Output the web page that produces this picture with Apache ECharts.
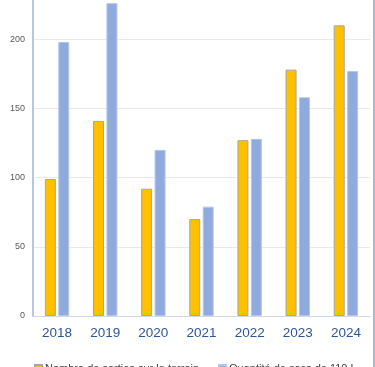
<!DOCTYPE html>
<html><head><meta charset="utf-8">
<script src="https://cdn.jsdelivr.net/npm/echarts@6/dist/echarts.min.js"></script>
<style>html,body{margin:0;padding:0;background:#fff;overflow:hidden;height:367px}
#c{width:373px;height:410px;margin-top:-30px;border-right:2px solid #A8B8D8;}</style>
</head><body><div id="c"></div>
<script>
const categories = ['2018','2019','2020','2021','2022','2023','2024'];
const sorties = [99, 141, 92, 70, 127, 178, 210];
const sacs = [198, 226, 120, 79, 128, 158, 177];
const yTicks = [0, 50, 100, 150, 200, 250];
const seriesNames = ['Nombre de sorties sur le terrain', 'Quantité de sacs de 110 L'];

const chart = echarts.init(document.getElementById('c'));
chart.setOption({
  animation: false,
  grid: {left: 33, right: 3, top: 0, bottom: 64, containLabel: false, outerBoundsMode: 'none'},
  legend: {
    show: true, width: 600,
    top: 393, left: 34, padding: 0, itemWidth: 7, itemHeight: 7, itemGap: 19,
    icon: 'rect',
    textStyle: {fontSize: 11, color: '#404040', fontFamily: 'Liberation Sans', padding: [0, 0, 0, -2]}
  },
  xAxis: {
    type: 'category', data: categories,
    axisLine: {show: true, lineStyle: {color: '#D0D9EA', width: 1}},
    axisTick: {show: false},
    axisLabel: {color: '#2F5597', fontSize: 13.5, margin: 10, fontFamily: 'Liberation Sans'}
  },
  yAxis: {
    type: 'value', min: yTicks[0], max: yTicks[yTicks.length - 1], interval: 50,
    axisLine: {show: true, lineStyle: {color: '#B4C7E7', width: 2}},
    axisTick: {show: false},
    splitLine: {lineStyle: {color: '#EAEAEA'}},
    axisLabel: {color: '#595959', fontSize: 9, margin: 8, fontFamily: 'Liberation Sans'}
  },
  series: [
    {name: seriesNames[0], type: 'bar', data: sorties, barWidth: 11, barGap: '22%',
     itemStyle: {color: '#FFC000', borderColor: '#A5A5A5', borderWidth: 1}},
    {name: seriesNames[1], type: 'bar', data: sacs, barWidth: 11,
     itemStyle: {color: '#8FAADC', borderColor: '#B4C7E7', borderWidth: 1}}
  ]
});
</script></body></html>
